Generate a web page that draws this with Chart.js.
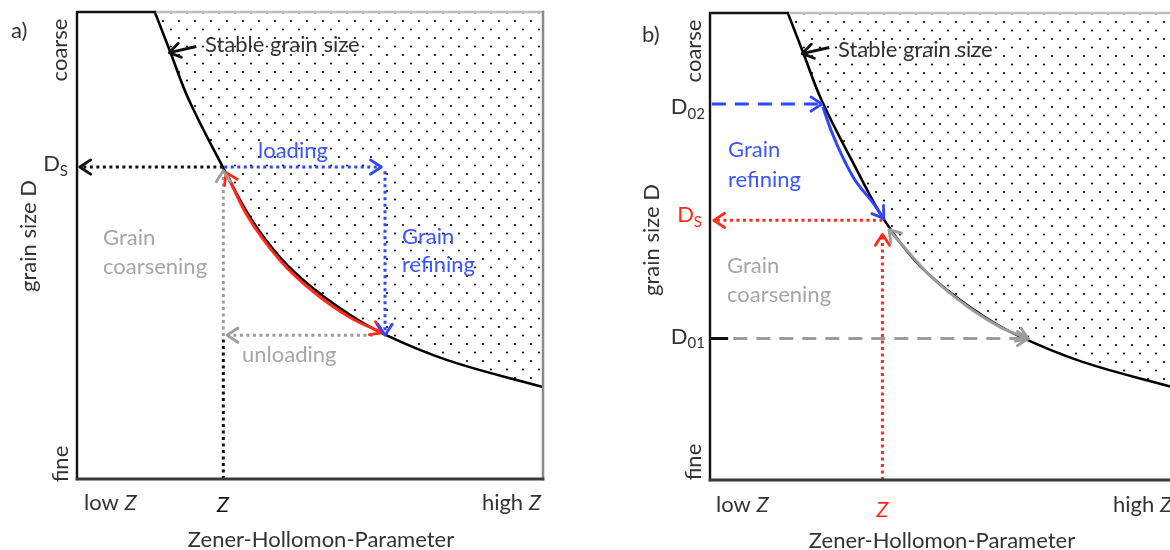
<!DOCTYPE html>
<html>
<head>
<meta charset="utf-8">
<script src="https://cdn.jsdelivr.net/npm/chart.js@4.4.1/dist/chart.umd.min.js"></script>
<style>
  html, body { margin: 0; padding: 0; background: #fff; overflow: hidden; width: 1170px; height: 550px; }
  canvas { position: absolute; }
  #panelA { left: 0; top: 0; }
  #panelB { left: 633px; top: 1px; }
</style>
</head>
<body>
<canvas id="panelA" width="585" height="550"></canvas>
<canvas id="panelB" width="585" height="550"></canvas>
<script>
// stable grain size curve, Z (0 = low, 100 = high) vs D (0 = fine, 100 = coarse)
const curveZ = [16.7, 20.0, 24.0, 31.3, 37.3, 44.0, 51.1, 58.2, 66.1, 79.6, 100];
const curveD = [100, 91.5, 81.2, 66.8, 55.8, 47.0, 40.5, 35.4, 30.9, 25.4, 19.7];

// little pointer next to "Stable grain size"
const pointerZ = [25.6, 19.8];
const pointerD = [92.6, 91.3];

// panel a: load / unload cycle around D_S
const zA = 31.3, dsA = 66.8, zHighA = 66.1, dLowA = 30.8;
const dsLeftZ = [zA, 0.6],        dsLeftD = [dsA, dsA];
const loadZ = [zA + 0.3, 65.3],   loadD = [dsA, dsA];
const refineZ = [zHighA, zHighA], refineD = [65.9, dLowA];
const unloadZ = [63.5, 32.2],     unloadD = [dLowA, dLowA];
const backZ = [zA + 0.1, zA + 0.1], backD = [dLowA - 0.2, 66.0];
const zDropZ = [zA + 0.1, zA + 0.1], zDropD = [0, dLowA - 0.2];
const redPathZ = [32.0, 36.3, 43.6, 50.6, 58.6, 65.5];
const redPathD = [65.6, 56.8, 46.8, 40.2, 34.6, 31.3];

// panel b: approach to D_S from D_02 (coarse) and D_01 (fine)
const zB = 37.0, dsB = 55.6, d02 = 80.5, d01 = 30.3;
const d02LineZ = [0.4, 24.0],  d02LineD = [d02, d02];
const bluePathZ = [24.2, 26.2, 30.7, 35.0, 37.3];
const bluePathD = [79.9, 74.3, 64.9, 59.3, 56.0];
const dsBLineZ = [zB, 0.8],    dsBLineD = [dsB, dsB];
const zBLineZ = [zB, zB],      zBLineD = [0, 52.6];
const d01TickZ = [0, 3.9],     d01TickD = [d01, d01];
const d01LineZ = [5.0, 68.3],  d01LineD = [d01, d01];
const greyPathZ = [38.4, 47.2, 55.2, 62.2, 68.3];
const greyPathD = [53.6, 43.8, 37.2, 32.8, 30.2];

const FONT = 'Lato, "Open Sans", sans-serif';
const FS = 22;
const INK = '#333';
const BLUE = '#2f45ff';
const BLUE_TXT = '#3d55ff';
const RED = '#ff2a1a';
const GREY = '#9c9c9c';
const GREY_TXT = '#a6a6a6';
const DOTS = [3, 3.5];
const DASH = [14, 9];

function dotPattern(ctx) {
  const tile = document.createElement('canvas');
  tile.width = 16; tile.height = 17;
  const g = tile.getContext('2d');
  g.fillStyle = '#000';
  [[3, 4], [11, 12.5]].forEach(([x, y]) => { g.beginPath(); g.arc(x, y, 1.1, 0, Math.PI * 2); g.fill(); });
  return ctx.createPattern(tile, 'repeat');
}

const pts = (zs, ds) => zs.map((z, i) => ({ x: z, y: ds[i] }));
const path = (zs, ds, color, opt = {}) => Object.assign({
  data: pts(zs, ds), borderColor: color, borderWidth: 3, pointRadius: 0,
  showLine: true, fill: false, borderCapStyle: 'butt'
}, opt);
const curve = (ctx) => path(curveZ, curveD, '#000', {
  borderWidth: 2.6, tension: 0.4, fill: 'end', backgroundColor: dotPattern(ctx)
});

// open chevron arrow heads on datasets flagged with `arrow`
function head(ctx, tip, from, color) {
  const a = Math.atan2(tip.y - from.y, tip.x - from.x);
  const L = 13, s = 0.58;
  ctx.save();
  ctx.strokeStyle = color; ctx.lineWidth = 2.8; ctx.lineCap = 'round'; ctx.lineJoin = 'round'; ctx.setLineDash([]);
  ctx.beginPath();
  ctx.moveTo(tip.x - L * Math.cos(a - s), tip.y - L * Math.sin(a - s));
  ctx.lineTo(tip.x, tip.y);
  ctx.lineTo(tip.x - L * Math.cos(a + s), tip.y - L * Math.sin(a + s));
  ctx.stroke();
  ctx.restore();
}
const arrowHeads = {
  id: 'arrowHeads',
  afterDatasetsDraw(chart) {
    chart.data.datasets.forEach((ds, i) => {
      if (!ds.arrow) return;
      const p = chart.getDatasetMeta(i).data, n = p.length;
      const curved = !!ds.cubicInterpolationMode;
      if (ds.arrow !== 'start') {
        const t = p[n - 1];
        head(chart.ctx, t, curved && t.cp1x !== undefined ? { x: t.cp1x, y: t.cp1y } : p[n - 2], ds.borderColor);
      }
      if (ds.arrow !== 'end') {
        const t = p[0];
        head(chart.ctx, t, curved && t.cp2x !== undefined ? { x: t.cp2x, y: t.cp2y } : p[1], ds.borderColor);
      }
    });
  }
};

function text(ctx, s, x, y, color, opt = {}) {
  ctx.save();
  ctx.font = (opt.italic ? 'italic ' : '') + (opt.size || FS) + 'px ' + FONT;
  ctx.fillStyle = color;
  ctx.textAlign = opt.align || 'left';
  ctx.textBaseline = 'middle';
  ctx.fillText(s, x, y);
  ctx.restore();
}
function vtext(ctx, s, x, y, color) {
  ctx.save();
  ctx.translate(x, y); ctx.rotate(-Math.PI / 2);
  text(ctx, s, 0, 0, color, { align: 'center' });
  ctx.restore();
}
function width(ctx, s, size, italic) {
  ctx.save(); ctx.font = (italic ? 'italic ' : '') + size + 'px ' + FONT;
  const w = ctx.measureText(s).width; ctx.restore(); return w;
}
// "prefix Z" with an italic Z
function zLabel(ctx, prefix, x, y, align) {
  const w1 = width(ctx, prefix, FS), w2 = width(ctx, 'Z', FS, true);
  const x0 = align === 'right' ? x - w1 - w2 : x;
  text(ctx, prefix, x0, y, INK);
  text(ctx, 'Z', x0 + w1, y, INK, { italic: true });
}
// D with a subscript, right edge at x
function dLabel(ctx, sub, x, y, color) {
  const ws = width(ctx, sub, 15), wd = width(ctx, 'D', FS);
  text(ctx, 'D', x - ws - wd, y, color);
  text(ctx, sub, x - ws, y + 7, color, { size: 15 });
}
function frame(chart) {
  const { ctx, chartArea: a, scales: { x } } = chart;
  const xs = x.getPixelForValue(curveZ[0]);
  ctx.save();
  ctx.lineCap = 'square';
  ctx.strokeStyle = '#bdbdbd'; ctx.lineWidth = 2.5;
  ctx.beginPath(); ctx.moveTo(xs, a.top); ctx.lineTo(a.right, a.top); ctx.stroke();
  ctx.strokeStyle = '#8a8a8a';
  ctx.beginPath(); ctx.moveTo(a.right, a.top); ctx.lineTo(a.right, a.bottom); ctx.stroke();
  ctx.strokeStyle = '#111'; ctx.lineWidth = 2.4;
  ctx.beginPath(); ctx.moveTo(xs, a.top); ctx.lineTo(a.left, a.top); ctx.lineTo(a.left, a.bottom); ctx.stroke();
  ctx.strokeStyle = '#3a3a3a'; ctx.lineWidth = 2.8;
  ctx.beginPath(); ctx.moveTo(a.left, a.bottom); ctx.lineTo(a.right, a.bottom); ctx.stroke();
  ctx.restore();
}

const options = {
  responsive: false, animation: false, events: [],
  layout: { padding: { left: 77, top: 12, right: 42, bottom: 71 } },
  plugins: { legend: { display: false }, tooltip: { enabled: false } },
  scales: {
    x: { type: 'linear', min: 0, max: 100, display: false },
    y: { type: 'linear', min: 0, max: 100, display: false }
  }
};

// ---- panel a ----
const ctxA = document.getElementById('panelA').getContext('2d');
new Chart(ctxA, {
  type: 'scatter',
  data: {
    datasets: [
      path(redPathZ, redPathD, RED, { cubicInterpolationMode: 'monotone', arrow: 'both' }),
      path(loadZ, loadD, BLUE, { borderDash: DOTS, arrow: 'end' }),
      path(refineZ, refineD, BLUE, { borderDash: DOTS, arrow: 'end' }),
      path(unloadZ, unloadD, GREY, { borderDash: DOTS, arrow: 'end' }),
      path(backZ, backD, GREY, { borderDash: DOTS, arrow: 'end' }),
      path(zDropZ, zDropD, '#111', { borderDash: DOTS }),
      path(dsLeftZ, dsLeftD, '#111', { borderDash: DOTS, arrow: 'end' }),
      path(pointerZ, pointerD, '#111', { arrow: 'end' }),
      curve(ctxA)
    ]
  },
  options,
  plugins: [arrowHeads, {
    id: 'labelsA',
    afterDraw(chart) {
      const { ctx, scales: { x, y } } = chart;
      frame(chart);
      text(ctx, 'a)', 11, 31, INK);
      vtext(ctx, 'coarse', 60, 50, INK);
      vtext(ctx, 'grain size D', 29, 236, INK);
      vtext(ctx, 'fine', 61, 464, INK);
      dLabel(ctx, 'S', 68, y.getPixelForValue(dsA) - 3, INK);
      text(ctx, 'Stable grain size', 205, 45, INK);
      text(ctx, 'loading', 258, 151, BLUE_TXT);
      text(ctx, 'Grain', 402, 237, BLUE_TXT);
      text(ctx, 'refining', 402, 265, BLUE_TXT);
      text(ctx, 'Grain', 103, 238, GREY_TXT);
      text(ctx, 'coarsening', 103, 267, GREY_TXT);
      text(ctx, 'unloading', 242, 355, GREY_TXT);
      zLabel(ctx, 'low ', 84, 503);
      text(ctx, 'Z', x.getPixelForValue(zA), 505, '#111', { italic: true, align: 'center' });
      zLabel(ctx, 'high ', 541, 503, 'right');
      text(ctx, 'Zener-Hollomon-Parameter', 321, 540, INK, { align: 'center' });
    }
  }]
});

// ---- panel b ----
const ctxB = document.getElementById('panelB').getContext('2d');
new Chart(ctxB, {
  type: 'scatter',
  data: {
    datasets: [
      path(bluePathZ, bluePathD, BLUE, { cubicInterpolationMode: 'monotone', arrow: 'end' }),
      path(dsBLineZ, dsBLineD, RED, { borderDash: DOTS, arrow: 'end' }),
      path(zBLineZ, zBLineD, RED, { borderDash: DOTS, arrow: 'end' }),
      path(greyPathZ, greyPathD, GREY, { cubicInterpolationMode: 'monotone', arrow: 'both' }),
      path(d02LineZ, d02LineD, BLUE, { borderDash: DASH, arrow: 'end' }),
      path(d01LineZ, d01LineD, GREY, { borderDash: DASH, arrow: 'end' }),
      path(d01TickZ, d01TickD, '#111'),
      path(pointerZ, pointerD, '#111', { arrow: 'end' }),
      curve(ctxB)
    ]
  },
  options,
  plugins: [arrowHeads, {
    id: 'labelsB',
    afterDraw(chart) {
      const { ctx, scales: { x, y } } = chart;
      frame(chart);
      text(ctx, 'b)', 9, 34, INK);
      vtext(ctx, 'coarse', 61, 50, INK);
      vtext(ctx, 'grain size D', 19, 239, INK);
      vtext(ctx, 'fine', 61, 461, INK);
      dLabel(ctx, '02', 72, y.getPixelForValue(d02) + 3, INK);
      dLabel(ctx, 'S', 69, y.getPixelForValue(dsB) - 5, RED);
      dLabel(ctx, '01', 72, y.getPixelForValue(d01) - 2, INK);
      text(ctx, 'Stable grain size', 205, 49, INK);
      text(ctx, 'Grain', 95, 149, BLUE_TXT);
      text(ctx, 'refining', 95, 179, BLUE_TXT);
      text(ctx, 'Grain', 94, 265, GREY_TXT);
      text(ctx, 'coarsening', 94, 294, GREY_TXT);
      zLabel(ctx, 'low ', 83, 504);
      text(ctx, 'Z', x.getPixelForValue(zB), 509, RED, { italic: true, align: 'center' });
      zLabel(ctx, 'high ', 480, 504);
      text(ctx, 'Zener-Hollomon-Parameter', 309, 540, INK, { align: 'center' });
    }
  }]
});
</script>
</body>
</html>
